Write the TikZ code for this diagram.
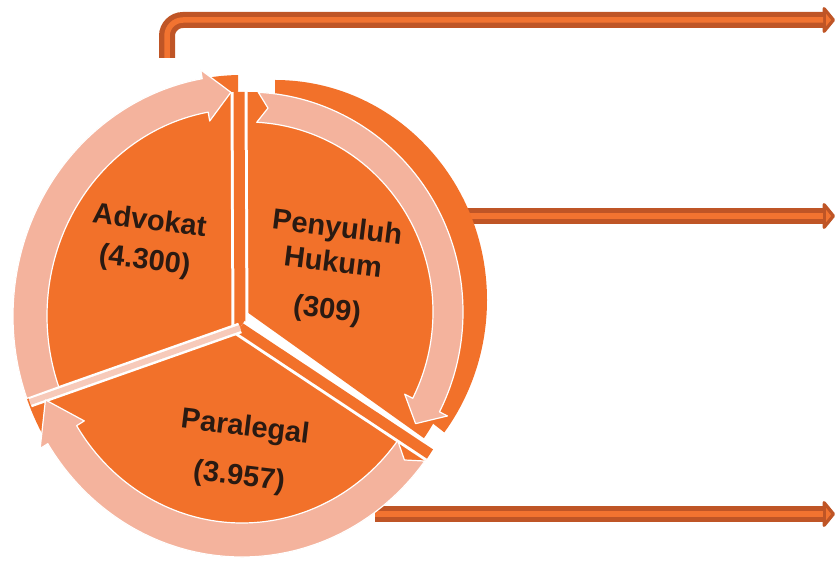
\documentclass[tikz,border=0pt]{standalone}
\usepackage{fontspec}
\setmainfont{Liberation Sans}
\usetikzlibrary{arrows.meta,positioning}

\definecolor{pieorange}{HTML}{F2712A}
\definecolor{ringpink}{HTML}{F4B39D}
\definecolor{flowdark}{HTML}{BF5526}
\definecolor{coreorange}{HTML}{F27330}
\definecolor{textdark}{HTML}{2A1A12}

\tikzset{
  slice/.style={fill=pieorange},
  cutline/.style={draw=white,line width=3pt,double=pieorange,double distance=11pt},
  ringarrow/.style={fill=ringpink,draw=white,line width=1.2pt,line join=round},
  flowline/.style={draw=flowdark,line width=16pt,
    -{Triangle[length=13pt,width=31pt,round,fill=coreorange,line width=3.5pt]}},
  flowcore/.style={draw=coreorange,line width=5.5pt,shorten >=12pt},
  slicetext/.style={font=\fontsize{29}{40}\selectfont\bfseries,align=center,
    text=textdark,rotate=-7}
}

\begin{document}
\begin{tikzpicture}[x=1pt,y=1pt]
    \useasboundingbox (0,0) rectangle (835,562);

    % arrows leading out to the right
    \coordinate (topstart) at (167,504);
    \coordinate (topend) at (835,542);
    \coordinate (midstart) at (440,346);
    \coordinate (midend) at (835,346);
    \coordinate (botstart) at (375,48);
    \coordinate (botend) at (835,48);

    \draw[flowline,rounded corners=16pt] (topstart) |- (topend);
    \draw[flowcore,rounded corners=16pt] (topstart) |- (topend);
    \draw[flowline] (midstart) -- (midend);
    \draw[flowcore] (midstart) -- (midend);
    \draw[flowline] (botstart) -- (botend);
    \draw[flowcore] (botstart) -- (botend);

    % pie
    \coordinate (pie) at (242,246);
    \coordinate (backctr) at (275,262);
    \coordinate (frontctr) at (247,250);
    \coordinate (hub) at (240,234);
    \coordinate (cutN) at (239,470);
    \coordinate (cutSW) at (30,160);
    \coordinate (cutSE) at (430,108);

    \begin{scope}[shift={(backctr)}]
        \fill[slice] (0,0) -- (90:212pt and 220pt)
            arc[start angle=90,end angle=-37,x radius=212,y radius=220] -- cycle;
    \end{scope}
    \begin{scope}[shift={(pie)}]
        \fill[slice] (-2,-12) -- (201:229pt and 241pt)
            arc[start angle=201,end angle=91,x radius=229,y radius=241] -- cycle;
        \fill[slice] (-2,-12) -- (325:229pt and 241pt)
            arc[start angle=325,end angle=201,x radius=229,y radius=241] -- cycle;
    \end{scope}
    \begin{scope}[shift={(frontctr)}]
        \fill[slice] (0,0) -- (90:216pt and 220pt)
            arc[start angle=90,end angle=-35,x radius=216,y radius=220] -- cycle;
    \end{scope}

    \draw[cutline] (hub) -- (cutN);
    \draw[cutline] (hub) -- (cutSE);
    \draw[cutline,double=ringpink!70!white,line width=2.5pt,double distance=6pt] (hub) -- (cutSW);

    % circular arrows round the slices
    \foreach \cx/\cy/\rx/\ry/\rt/\s/\e/\h/\n in
        {242/246/229/241/34/200/93/7/0,
         242/246/229/241/34/323/202/10/3,
         247/250/216/220/30/87/-33/6/3}
    {
        \pgfmathsetmacro\ax{\rx-\rt}
        \pgfmathsetmacro\ay{\ry-\rt}
        \pgfmathsetmacro\mx{\rx-\rt/2}
        \pgfmathsetmacro\my{\ry-\rt/2}
        \pgfmathsetmacro\bx{\rx+9}
        \pgfmathsetmacro\by{\ry+9}
        \pgfmathsetmacro\dx{\ax-9}
        \pgfmathsetmacro\dy{\ay-9}
        \pgfmathsetmacro\hb{\e+\h}
        \pgfmathsetmacro\nb{\s-\n}
        \begin{scope}[shift={(\cx,\cy)}]
            \path[ringarrow] (\s:\rx pt and \ry pt)
                arc[start angle=\s,end angle=\hb,x radius=\rx,y radius=\ry]
                -- (\hb:\bx pt and \by pt) -- (\e:\mx pt and \my pt)
                -- (\hb:\dx pt and \dy pt) -- (\hb:\ax pt and \ay pt)
                arc[start angle=\hb,end angle=\s,x radius=\ax,y radius=\ay]
                -- (\nb:\mx pt and \my pt) -- cycle;
        \end{scope}
    }

    \node[slicetext] (advokat) at (147,320) {Advokat\\(4.300)};
    \node[slicetext] (penyuluh) at (332,292) {Penyuluh\\[-5pt]Hukum\\[7pt](309)};
    \node[slicetext] (paralegal) at (242,109) {Paralegal\\[10pt](3.957)};
\end{tikzpicture}
\end{document}
